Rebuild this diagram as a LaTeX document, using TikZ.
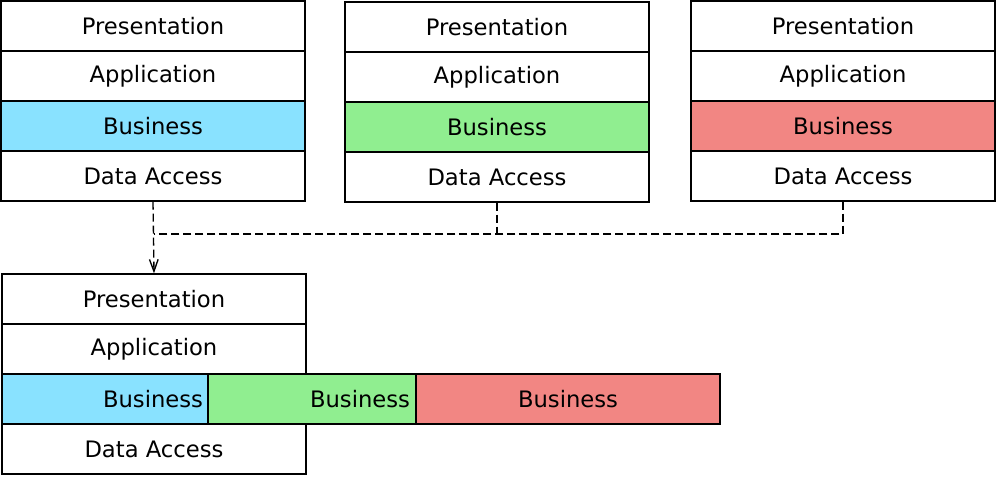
\documentclass[tikz,border=0pt]{standalone}
\usepackage{fontspec}
\setmainfont{DejaVu Sans}
\usetikzlibrary{arrows.meta}
\definecolor{bizblue}{RGB}{137,226,255}
\definecolor{bizgreen}{RGB}{144,238,144}
\definecolor{bizred}{RGB}{242,134,131}
\tikzset{
  layer/.style={draw, line width=1pt, inner sep=0pt, minimum width=228pt,
    minimum height=37.5pt, font=\fontsize{17}{20}\selectfont},
  conn/.style={line width=1pt, dash pattern=on 6pt off 3pt},
  >/.tip={Straight Barb[length=9pt,width=6.5pt]}
}
\begin{document}
\begin{tikzpicture}[x=0.75pt,y=-0.75pt]
\useasboundingbox (0,0) rectangle (998,477);
% first application
\node[layer] (p1) at (153,26)  {Presentation};
\node[layer] (a1) at (153,76)  {Application};
\node[layer, fill=bizblue] (b1) at (153,126) {Business};
\node[layer] (d1) at (153,176) {Data Access};
% second application
\node[layer] (p2) at (497,27)  {Presentation};
\node[layer] (a2) at (497,77)  {Application};
\node[layer, fill=bizgreen] (b2) at (497,127) {Business};
\node[layer] (d2) at (497,177) {Data Access};
% third application
\node[layer] (p3) at (843,26)  {Presentation};
\node[layer] (a3) at (843,76)  {Application};
\node[layer, fill=bizred] (b3) at (843,126) {Business};
\node[layer] (d3) at (843,176) {Data Access};
% merged application
\node[layer] (p4) at (154,299) {Presentation};
\node[layer] (a4) at (154,349) {Application};
\node[layer] (d4) at (154,449) {Data Access};
\node[layer, fill=bizblue, minimum width=154.5pt, text width=147pt, align=right]
  (b4) at (105,399) {Business};
\node[layer, fill=bizgreen, minimum width=156pt, text width=147pt, align=right]
  (b5) at (312,399) {Business};
\node[layer, fill=bizred] (b6) at (568,399) {Business};

\coordinate (join) at (154,234);
\draw[conn, ->] (d1.south) -- (p4.north);
\draw[conn] (d2.south) -- (d2.south |- join);
\draw[conn] (d3.south) |- (join);
\end{tikzpicture}
\end{document}
